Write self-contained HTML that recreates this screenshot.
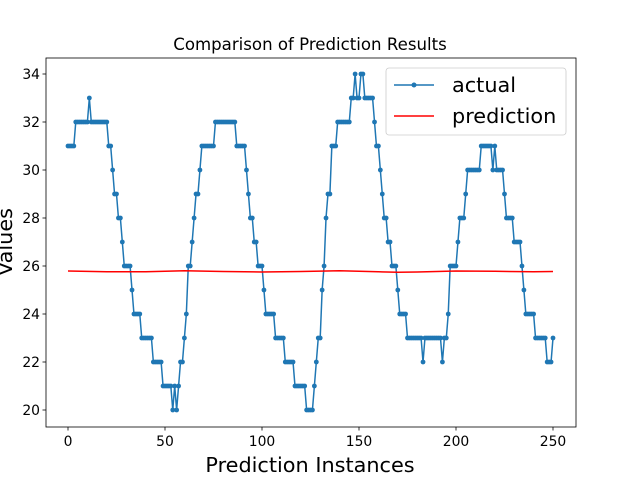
<!DOCTYPE html>
<html><head><meta charset="utf-8"><style>
body{margin:0;background:#fff;}
svg{display:block;font-family:"DejaVu Sans","Liberation Sans",sans-serif;}
</style></head><body>
<svg id="chart" width="640" height="480" viewBox="0 0 640 480">
<rect width="640" height="480" fill="#fff"/>
<text x="310" y="50" font-size="16.6" text-anchor="middle">Comparison of Prediction Results</text>
<g id="grid"></g>
<g id="series"></g>
<rect x="46" y="58" width="530" height="369" fill="none" stroke="#000" stroke-width="0.8"/>
<text x="310" y="472" font-size="20.8" text-anchor="middle">Prediction Instances</text>
<text transform="translate(12,242) rotate(-90)" font-size="20.8" text-anchor="middle">Values</text>
<g>
<rect x="386" y="68" width="180" height="67" rx="3" fill="#fff" fill-opacity="0.8" stroke="#ccc" stroke-width="0.8"/>
<g>
<line x1="394" y1="85" x2="434" y2="85" stroke="#1f77b4" stroke-width="1.5"/>
<circle cx="414" cy="85" r="2.5" fill="#1f77b4"/>
<text x="452" y="92" font-size="20.8">actual</text>
</g>
<g>
<line x1="394" y1="116" x2="434" y2="116" stroke="#ff0000" stroke-width="1.5"/>
<text x="452" y="123" font-size="20.8">prediction</text>
</g>
</g>
</svg>
<script>
const actual = [31,31,31,31,32,32,32,32,32,32,32,33,32,32,32,32,32,32,32,32,32,31,31,30,29,29,28,28,27,26,26,26,26,25,24,24,24,24,23,23,23,23,23,23,22,22,22,22,22,21,21,21,21,21,20,21,20,21,22,22,23,24,26,26,27,28,29,29,30,31,31,31,31,31,31,31,32,32,32,32,32,32,32,32,32,32,32,31,31,31,31,31,30,29,28,28,27,27,26,26,26,25,24,24,24,24,24,23,23,23,23,23,22,22,22,22,22,21,21,21,21,21,21,20,20,20,20,21,22,23,23,25,26,28,29,29,31,31,31,32,32,32,32,32,32,32,33,33,34,33,33,34,34,33,33,33,33,33,32,31,31,30,29,28,28,27,27,26,26,26,25,24,24,24,24,23,23,23,23,23,23,23,23,22,23,23,23,23,23,23,23,23,23,22,23,23,24,26,26,26,26,27,28,28,28,29,30,30,30,30,30,30,30,31,31,31,31,31,31,30,31,30,30,30,30,29,28,28,28,28,27,27,27,27,26,25,24,24,24,24,24,23,23,23,23,23,23,22,22,22,23];
const predX = [0,20,40,60,80,100,120,140,160,170,180,200,220,240,250];
const predY = [25.79,25.76,25.76,25.80,25.77,25.75,25.77,25.80,25.76,25.74,25.75,25.79,25.78,25.76,25.77];
const xTicks = [0,50,100,150,200,250];
const yTicks = [20,22,24,26,28,30,32,34];

const NS='http://www.w3.org/2000/svg';
const xs = v => 68 + v*1.94;
const ys = v => 410 - (v-20)*24;
function mk(tag, attrs, parent){const e=document.createElementNS(NS,tag);for(const k in attrs)e.setAttribute(k,attrs[k]);parent.appendChild(e);return e;}
const grid=document.getElementById('grid');
const series=document.getElementById('series');
xTicks.forEach(t=>{
  const l=mk('line',{x1:xs(t),x2:xs(t),y1:427,y2:430.5,stroke:'#000','stroke-width':0.8},grid);
  
  
  const tx=mk('text',{x:xs(t),y:446,'font-size':13.9,'text-anchor':'middle'},grid);
  tx.textContent=t;
  
  
});
yTicks.forEach(t=>{
  const l=mk('line',{x1:42.5,x2:46,y1:ys(t),y2:ys(t),stroke:'#000','stroke-width':0.8},grid);
  
  
  const tx=mk('text',{x:40,y:ys(t)+5,'font-size':13.9,'text-anchor':'end'},grid);
  tx.textContent=t;
  
  
});
const ap=mk('polyline',{points:actual.map((v,i)=>xs(i)+','+ys(v)).join(' '),fill:'none',stroke:'#1f77b4','stroke-width':1.5,'stroke-linejoin':'round'},series);


actual.forEach((v,i)=>{
  const c=mk('circle',{cx:xs(i),cy:ys(v),r:2.4,fill:'#1f77b4'},series);
  
  
});
const pp=mk('polyline',{points:predX.map((x,i)=>xs(x)+','+ys(predY[i])).join(' '),fill:'none',stroke:'#ff0000','stroke-width':1.5},series);


</script>
</body></html>
